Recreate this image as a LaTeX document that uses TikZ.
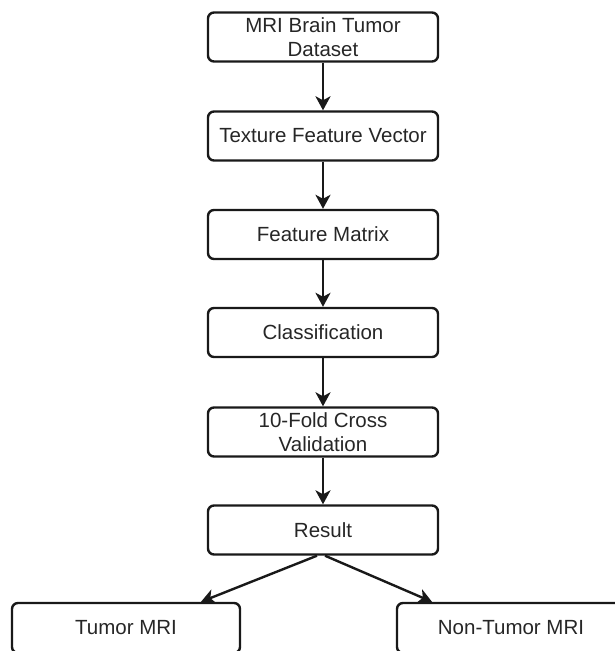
\documentclass[tikz,border=0pt]{standalone}
\usepackage{fontspec}
\setmainfont{Liberation Sans}
\usetikzlibrary{arrows.meta}
\begin{document}
\begin{tikzpicture}[x=1pt,y=-1pt,
  box/.style={draw=black!90, line width=2.4pt, rounded corners=6pt, minimum width=230pt,
    minimum height=49pt, align=center, inner sep=0pt,
    font=\fontsize{20.5}{23.5}\selectfont, text=black!85},
  arr/.style={draw=black!90, line width=2.4pt, -{Stealth[length=14pt,width=15pt,inset=4pt]}}]
\useasboundingbox (0,0) rectangle (615,651);
\clip (0,0) rectangle (615,651);
\node[box] (a) at (323,37) {MRI Brain Tumor\\Dataset};
\node[box] (b) at (323,136) {Texture Feature Vector};
\node[box] (c) at (323,234.5) {Feature Matrix};
\node[box] (d) at (323,332.5) {Classification};
\node[box] (e) at (323,432) {10-Fold Cross\\Validation};
\node[box] (f) at (323,530) {Result};
\node[box, minimum width=228pt, minimum height=50pt] (g) at (126,628) {Tumor MRI};
\node[box, minimum width=228pt, minimum height=50pt] (h) at (511,628) {Non-Tumor MRI};
\draw[arr] (a) -- (b);
\draw[arr] (b) -- (c);
\draw[arr] (c) -- (d);
\draw[arr] (d) -- (e);
\draw[arr] (e) -- (f);
\draw[arr] ([xshift=-6pt]f.south) -- ([xshift=75pt]g.north);
\draw[arr] ([xshift=2pt]f.south) -- ([xshift=-79pt]h.north);
\end{tikzpicture}
\end{document}
